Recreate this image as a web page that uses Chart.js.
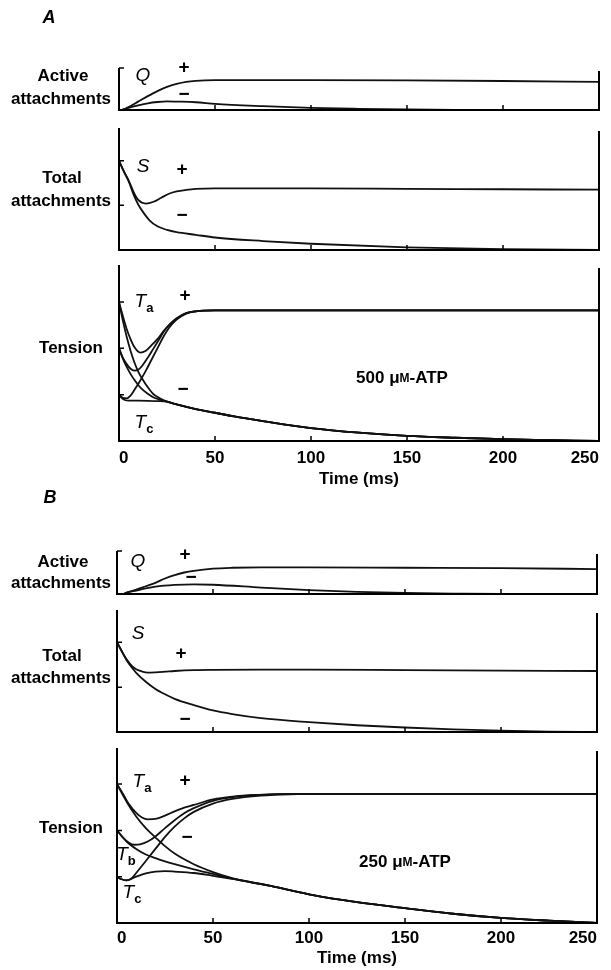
<!DOCTYPE html>
<html><head><meta charset="utf-8">
<script src="https://cdn.jsdelivr.net/npm/chart.js@4.4.1/dist/chart.umd.min.js"></script>
<style>
html,body{margin:0;padding:0;background:#fff;}
#wrap{position:relative;width:611px;height:970px;overflow:hidden;background:#fff;}
canvas{position:absolute;left:0;}
</style></head>
<body><div id="wrap"></div>
<script>
// ---------- DATA ----------
// Time axis ticks (ms)
const timeTickLabels = [0, 50, 100, 150, 200, 250];

// Panel A : 500 uM-ATP
// Active attachments Q (+ / -)
const qA_plus_t  = [0, 2, 5, 10, 15, 20, 25, 30, 35, 40, 50, 100, 150, 200, 250];
const qA_plus    = [0, 0.01, 0.07, 0.2, 0.33, 0.45, 0.55, 0.62, 0.67, 0.695, 0.71, 0.71, 0.705, 0.69, 0.67];
const qA_minus_t = [0, 2, 5, 10, 15, 20, 25, 30, 40, 50, 75, 100, 125, 150, 175, 200, 250];
const qA_minus   = [0, 0.01, 0.05, 0.11, 0.16, 0.19, 0.205, 0.2, 0.185, 0.145, 0.09, 0.05, 0.028, 0.013, 0.004, 0, 0];
// Total attachments S (+ / -)
const sA_plus_t  = [0, 2, 5, 8, 10, 14, 18, 22, 26, 30, 35, 40, 50, 100, 150, 200, 250];
const sA_plus    = [1.0, 0.9, 0.78, 0.63, 0.56, 0.52, 0.54, 0.585, 0.63, 0.656, 0.673, 0.684, 0.69, 0.69, 0.685, 0.68, 0.675];
const sA_minus_t = [0, 3, 5, 8, 10, 13, 16, 20, 25, 30, 40, 50, 75, 100, 150, 200, 250];
const sA_minus   = [1.0, 0.86, 0.77, 0.6, 0.51, 0.41, 0.33, 0.265, 0.225, 0.2, 0.17, 0.14, 0.1, 0.07, 0.03, 0.01, 0.0];
// Tension, three starting levels Ta / Tb / Tc (+ / -)
const taA_plus_t  = [0, 2, 4, 6, 8, 11, 14, 17, 20, 23, 26, 30, 35, 40, 50, 100, 150, 200, 250];
const taA_plus    = [3.0, 2.7, 2.42, 2.2, 2.03, 1.91, 1.95, 2.07, 2.2, 2.36, 2.5, 2.65, 2.76, 2.8, 2.82, 2.82, 2.82, 2.82, 2.82];
const tbA_plus_t  = [0, 2, 4, 6, 8, 10, 12, 15, 18, 21, 24, 27, 30, 35, 40, 50, 100, 250];
const tbA_plus    = [2.0, 1.8, 1.66, 1.56, 1.52, 1.54, 1.62, 1.8, 2.0, 2.2, 2.4, 2.54, 2.64, 2.76, 2.8, 2.82, 2.82, 2.82];
const tcA_plus_t  = [0, 2, 4, 6, 8, 11, 14, 17, 20, 23, 26, 30, 35, 40, 50, 100, 250];
const tcA_plus    = [1.0, 0.93, 0.92, 0.98, 1.1, 1.3, 1.52, 1.76, 2.0, 2.24, 2.44, 2.62, 2.75, 2.8, 2.82, 2.82, 2.82];
const taA_minus_t = [0, 2, 4, 6, 8, 10, 12, 15, 18, 21];
const taA_minus   = [3.0, 2.6, 2.25, 1.95, 1.7, 1.5, 1.35, 1.16, 1.01, 0.93];
const tbA_minus_t = [0, 2, 4, 6, 8, 10, 12, 15, 18, 21];
const tbA_minus   = [2.0, 1.78, 1.6, 1.45, 1.32, 1.21, 1.12, 1.02, 0.94, 0.895];
const tcA_minus_t = [0, 1, 3, 5, 10, 15, 20];
const tcA_minus   = [1.0, 0.95, 0.885, 0.87, 0.87, 0.868, 0.862];
const tailA_t     = [25, 30, 40, 50, 60, 75, 100, 125, 150, 175, 200, 225, 250];
const tailA       = [0.85, 0.79, 0.69, 0.61, 0.53, 0.43, 0.28, 0.18, 0.11, 0.07, 0.04, 0.02, 0.0];

// Panel B : 250 uM-ATP
const qB_plus_t  = [0, 3, 5, 10, 15, 20, 25, 30, 35, 40, 50, 60, 75, 100, 150, 200, 250];
const qB_plus    = [0, 0, 0.03, 0.1, 0.18, 0.26, 0.36, 0.44, 0.5, 0.54, 0.59, 0.61, 0.62, 0.62, 0.61, 0.6, 0.58];
const qB_minus_t = [0, 3, 5, 10, 15, 20, 30, 40, 50, 75, 100, 125, 150, 175, 200, 250];
const qB_minus   = [0, 0, 0.03, 0.08, 0.13, 0.17, 0.21, 0.225, 0.215, 0.15, 0.09, 0.05, 0.025, 0.01, 0, 0];
const sB_plus_t  = [0, 2, 5, 8, 10, 13, 16, 20, 25, 30, 40, 50, 75, 100, 150, 200, 250];
const sB_plus    = [1.0, 0.92, 0.81, 0.73, 0.7, 0.675, 0.662, 0.665, 0.672, 0.68, 0.69, 0.693, 0.695, 0.695, 0.69, 0.685, 0.68];
const sB_minus_t = [0, 2, 5, 8, 10, 15, 20, 25, 30, 40, 50, 60, 75, 100, 125, 150, 175, 200, 225, 250];
const sB_minus   = [1.0, 0.92, 0.8, 0.71, 0.66, 0.56, 0.48, 0.42, 0.37, 0.3, 0.24, 0.2, 0.155, 0.11, 0.075, 0.05, 0.03, 0.015, 0.005, 0.0];
const taB_plus_t  = [0, 3, 6, 10, 13, 16, 20, 25, 30, 35, 40, 50, 60, 70, 80, 100, 150, 200, 250];
const taB_plus    = [3.0, 2.8, 2.58, 2.38, 2.28, 2.24, 2.25, 2.32, 2.41, 2.49, 2.55, 2.67, 2.73, 2.76, 2.78, 2.79, 2.79, 2.79, 2.79];
const tbB_plus_t  = [0, 3, 6, 9, 12, 16, 20, 25, 30, 35, 40, 50, 60, 70, 80, 100, 250];
const tbB_plus    = [2.0, 1.85, 1.74, 1.69, 1.7, 1.76, 1.87, 2.05, 2.22, 2.37, 2.48, 2.64, 2.72, 2.76, 2.78, 2.79, 2.79];
const tcB_plus_t  = [0, 2, 5, 8, 10, 15, 20, 25, 30, 35, 40, 50, 60, 75, 90, 110, 250];
const tcB_plus    = [1.0, 0.95, 0.92, 0.98, 1.08, 1.34, 1.6, 1.86, 2.08, 2.26, 2.4, 2.58, 2.68, 2.75, 2.78, 2.79, 2.79];
const taB_minus_t = [0, 5, 10, 15, 20, 25, 30, 40, 50, 60];
const taB_minus   = [3.0, 2.62, 2.3, 2.05, 1.85, 1.66, 1.5, 1.27, 1.1, 0.97];
const tbB_minus_t = [0, 5, 10, 15, 20, 25, 30, 40, 50, 60];
const tbB_minus   = [2.0, 1.76, 1.6, 1.48, 1.4, 1.33, 1.27, 1.16, 1.06, 0.96];
const tcB_minus_t = [0, 2, 5, 10, 15, 20, 25, 30, 40, 50, 60];
const tcB_minus   = [1.0, 0.95, 0.92, 1.0, 1.07, 1.11, 1.12, 1.11, 1.08, 1.02, 0.955];
const tailB_t     = [70, 80, 100, 125, 150, 175, 200, 225, 250];
const tailB       = [0.88, 0.8, 0.62, 0.45, 0.32, 0.2, 0.11, 0.05, 0.0];

// ---------- RENDERING ----------
const W = 611;
const FAM = "'Liberation Sans', Arial, sans-serif";
const BOLD = "bold 17px " + FAM;
const ITAL = "italic 19px " + FAM;
const SUB = "bold 13px " + FAM;
const SIGN = "bold 19px " + FAM;
const SMALL = "bold 12px " + FAM;

function pts(t, v) { return t.map((x, i) => ({ x: x, y: v[i] })); }
function join(t1, v1, t2, v2) { return pts(t1.concat(t2), v1.concat(v2)); }

function T(x, y, s) { return { x, y, parts: [[s, BOLD, 0]] }; }
function SYM(x, y, s) { return { x, y, parts: [[s, ITAL, 0]] }; }
function SG(x, y, s) { return { x, y, parts: [[s, SIGN, 0]] }; }
function TS(x, y, sub) { return { x, y, parts: [['T', ITAL, 0], [sub, SUB, 6]] }; }
function ATP(x, y, conc) { return { x, y, parts: [[conc + ' \u03bc', BOLD, 0], ['M', SMALL, 1], ['-ATP', BOLD, 0]] }; }

const panels = [
  { top: 0, height: 122, area: { left: 119, right: 599, top: 68, bottom: 116 }, yMin: 0, yMax: 1, yTicks: [1],
    series: [pts(qA_plus_t, qA_plus), pts(qA_minus_t, qA_minus)], xLabels: false,
    texts: [{ x: 49, y: 18, parts: [['A', 'italic bold 18px ' + FAM, 0]] },
      T(63, 76, 'Active'), T(61, 99, 'attachments'), SYM(143, 76, 'Q'), SG(184, 68, '+'), SG(184, 95, '\u2212')] },
  { top: 122, height: 138, area: { left: 119, right: 599, top: 128, bottom: 255 }, yMin: 0, yMax: 1.366, yTicks: [1, 0.5],
    series: [pts(sA_plus_t, sA_plus), pts(sA_minus_t, sA_minus)], xLabels: false,
    texts: [T(62, 178, 'Total'), T(61, 201, 'attachments'), SYM(143, 167, 'S'), SG(182, 170, '+'), SG(182, 216, '\u2212')] },
  { top: 260, height: 232, area: { left: 119, right: 599, top: 265, bottom: 441 }, yMin: 0, yMax: 3.8, yTicks: [1, 2, 3],
    series: [pts(taA_plus_t, taA_plus), pts(tbA_plus_t, tbA_plus), pts(tcA_plus_t, tcA_plus),
      join(taA_minus_t, taA_minus, tailA_t, tailA), join(tbA_minus_t, tbA_minus, tailA_t, tailA), join(tcA_minus_t, tcA_minus, tailA_t, tailA)],
    xLabels: true, tickPad: 7, titlePad: 2,
    texts: [T(71, 348, 'Tension'), TS(144, 302, 'a'), SG(185, 296, '+'), SG(183, 390, '\u2212'), TS(144, 423, 'c'), ATP(402, 378, '500')] },
  { top: 480, height: 124, area: { left: 117, right: 597, top: 551, bottom: 599 }, yMin: 0, yMax: 1, yTicks: [1],
    series: [pts(qB_plus_t, qB_plus), pts(qB_minus_t, qB_minus)], xLabels: false,
    texts: [{ x: 50, y: 498, parts: [['B', 'italic bold 18px ' + FAM, 0]] },
      T(63, 562, 'Active'), T(61, 583, 'attachments'), SYM(138, 562, 'Q'), SG(185, 555, '+'), SG(191, 578, '\u2212')] },
  { top: 604, height: 140, area: { left: 117, right: 597, top: 610, bottom: 738 }, yMin: 0, yMax: 1.36, yTicks: [1, 0.5],
    series: [pts(sB_plus_t, sB_plus), pts(sB_minus_t, sB_minus)], xLabels: false,
    texts: [T(62, 656, 'Total'), T(61, 678, 'attachments'), SYM(138, 634, 'S'), SG(181, 654, '+'), SG(185, 720, '\u2212')] },
  { top: 744, height: 226, area: { left: 117, right: 597, top: 748, bottom: 923 }, yMin: 0, yMax: 3.78, yTicks: [1, 2, 3],
    series: [pts(taB_plus_t, taB_plus), pts(tbB_plus_t, tbB_plus), pts(tcB_plus_t, tcB_plus),
      join(taB_minus_t, taB_minus, tailB_t, tailB), join(tbB_minus_t, tbB_minus, tailB_t, tailB), join(tcB_minus_t, tcB_minus, tailB_t, tailB)],
    xLabels: true, tickPad: 5, titlePad: 1,
    texts: [T(71, 828, 'Tension'), TS(142, 782, 'a'), SG(185, 781, '+'), SG(187, 838, '\u2212'), TS(126, 855, 'b'), TS(132, 893, 'c'), ATP(405, 862, '250')] }
];

function drawItem(ctx, item, offset) {
  ctx.textBaseline = 'middle';
  ctx.textAlign = 'left';
  let w = 0;
  item.parts.forEach(p => { ctx.font = p[1]; w += ctx.measureText(p[0]).width; });
  let x = item.x - w / 2;
  item.parts.forEach(p => {
    ctx.font = p[1];
    ctx.fillText(p[0], x, item.y - offset + p[2]);
    x += ctx.measureText(p[0]).width;
  });
}

const framePlugin = {
  id: 'frame',
  afterDatasetsDraw(chart) {
    const o = chart.options.plugins.frame;
    const a = chart.chartArea, xs = chart.scales.x, ys = chart.scales.y;
    const ctx = chart.ctx;
    ctx.save();
    ctx.strokeStyle = '#000';
    ctx.lineWidth = 2;
    ctx.beginPath();
    ctx.moveTo(a.left, a.top); ctx.lineTo(a.left, a.bottom); ctx.lineTo(a.right, a.bottom); ctx.lineTo(a.right, a.top + 3);
    ctx.stroke();
    ctx.lineWidth = 1.5;
    ctx.beginPath();
    [50, 100, 150, 200].forEach(v => { const px = xs.getPixelForValue(v); ctx.moveTo(px, a.bottom); ctx.lineTo(px, a.bottom - 5); });
    o.yTicks.forEach(v => { const py = ys.getPixelForValue(v); ctx.moveTo(a.left, py); ctx.lineTo(a.left + 5, py); });
    ctx.stroke();
    ctx.fillStyle = '#000';
    o.texts.forEach(it => drawItem(ctx, it, o.offset));
    ctx.restore();
  }
};

const wrap = document.getElementById('wrap');
panels.forEach(p => {
  const c = document.createElement('canvas');
  c.width = W; c.height = p.height;
  c.style.top = p.top + 'px';
  c.style.width = W + 'px'; c.style.height = p.height + 'px';
  wrap.appendChild(c);
  const a = p.area;
  const axisH = p.top + p.height - a.bottom;
  new Chart(c, {
    type: 'line',
    data: {
      datasets: p.series.map(d => ({ data: d, borderColor: '#111', borderWidth: 1.8, pointRadius: 0,
        cubicInterpolationMode: 'monotone', fill: false }))
    },
    options: {
      responsive: false, animation: false, devicePixelRatio: 1,
      layout: { padding: { left: a.left, right: W - a.right, top: a.top - p.top, bottom: p.xLabels ? 0 : axisH } },
      scales: {
        x: {
          type: 'linear', min: timeTickLabels[0], max: timeTickLabels[timeTickLabels.length - 1],
          display: p.xLabels,
          grid: { display: false, drawTicks: false }, border: { display: false },
          afterBuildTicks: s => { s.ticks = timeTickLabels.map(v => ({ value: v })); },
          ticks: { align: 'inner', padding: p.tickPad || 0, color: '#000', maxRotation: 0, autoSkip: false,
            font: { family: FAM, size: 17, weight: 'bold' } },
          title: { display: true, text: 'Time (ms)', color: '#000', font: { family: FAM, size: 17, weight: 'bold' },
            padding: { top: 0, bottom: p.titlePad || 0 } },
          afterFit: s => { s.height = axisH; }
        },
        y: { display: false, min: p.yMin, max: p.yMax }
      },
      plugins: {
        legend: { display: false }, tooltip: { enabled: false },
        frame: { yTicks: p.yTicks, texts: p.texts, offset: p.top }
      }
    },
    plugins: [framePlugin]
  });
});
</script>
</body></html>
